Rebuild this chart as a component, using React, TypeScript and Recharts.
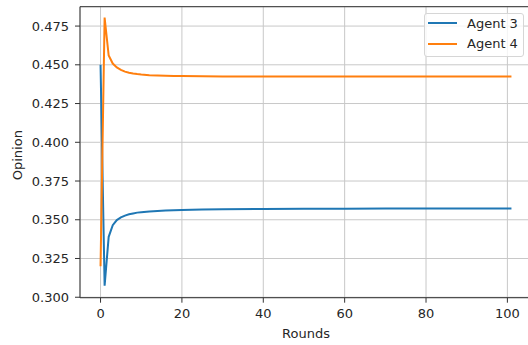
import React from "react";
import {
  LineChart,
  Line,
  XAxis,
  YAxis,
  CartesianGrid,
  Legend,
  ReferenceLine,
} from "recharts";

// rounds sampled densely where the curves move, sparser once they flatten out
const rounds = [0, 1, 2, 3, 4, 5, 6, 7, 8, 9, 10, 12, 14, 16, 18, 20, 25, 30, 40, 50, 60, 70, 80, 90, 101];
const agent3 = [
  0.45, 0.3075, 0.339, 0.3465, 0.3498, 0.3515, 0.3527, 0.3535, 0.3541, 0.3546, 0.3549, 0.3554,
  0.3557, 0.356, 0.3562, 0.3563, 0.3566, 0.3568, 0.357, 0.3571, 0.3571, 0.3572, 0.3572, 0.3572, 0.3572,
];
const agent4 = [
  0.32, 0.4805, 0.456, 0.4508, 0.4483, 0.4467, 0.4456, 0.4449, 0.4444, 0.444, 0.4437, 0.4433,
  0.4431, 0.4429, 0.4428, 0.4427, 0.4426, 0.4425, 0.4425, 0.4425, 0.4425, 0.4425, 0.4425, 0.4425, 0.4425,
];
const xTicks = [0, 20, 40, 60, 80, 100];
const yTicks = [0.3, 0.325, 0.35, 0.375, 0.4, 0.425, 0.45, 0.475];
const xDomain = [-5.05, 106.05];
const yDomain = [0.2997, 0.4875];

const data = rounds.map((r, i) => ({ round: r, a3: agent3[i], a4: agent4[i] }));

const FONT = "'DejaVu Sans', sans-serif";
const TEXT = "#262626";
const SPINE = "#333333";

const tickStyle = { fill: TEXT, fontSize: 13, fontFamily: FONT };

function renderLegend(props: any) {
  const items = props.payload || [];
  return (
    <div
      style={{
        width: 98,
        height: 42,
        border: "1px solid #d6d6d6",
        borderRadius: 3,
        background: "rgba(255,255,255,0.8)",
        fontFamily: FONT,
        fontSize: 13,
        color: TEXT,
        boxSizing: "content-box",
      }}
    >
      {items.map((it: any, i: number) => (
        <div
          key={it.value}
          style={{
            position: "absolute",
            left: 0,
            top: i === 0 ? 2 : 22.5,
            height: 16,
            display: "flex",
            alignItems: "center",
          }}
        >
          <span
            style={{
              display: "inline-block",
              width: 29,
              height: 2,
              background: it.color,
              marginLeft: 4,
              marginRight: 10,
            }}
          />
          <span>{it.value}</span>
        </div>
      ))}
    </div>
  );
}

export default function App() {
  return (
    <div
      style={{
        position: "fixed",
        left: 0,
        top: 0,
        width: 528,
        height: 345,
        overflow: "hidden",
        background: "#fff",
      }}
    >
      <LineChart
        width={540}
        height={345}
        data={data}
        margin={{ top: 6.7, right: 8, left: 0, bottom: 0 }}
      >
        <CartesianGrid stroke="#c8c8c8" strokeWidth={1} />
        <XAxis
          dataKey="round"
          type="number"
          domain={xDomain}
          ticks={xTicks}
          allowDataOverflow
          height={47.3}
          tick={tickStyle}
          tickSize={5}
          tickMargin={6}
          axisLine={{ stroke: SPINE }}
          tickLine={{ stroke: SPINE }}
          label={{
            content: (p: any) => {
              const vb = p.viewBox;
              return (
                <text
                  x={vb.x + vb.width / 2}
                  y={vb.y + 40}
                  textAnchor="middle"
                  fill={TEXT}
                  fontSize={13}
                  fontFamily={FONT}
                >
                  Rounds
                </text>
              );
            },
          }}
        />
        <YAxis
          type="number"
          domain={yDomain}
          ticks={yTicks}
          allowDataOverflow
          width={80}
          tick={tickStyle}
          tickSize={5}
          tickMargin={6}
          tickFormatter={(v: number) => v.toFixed(3)}
          axisLine={{ stroke: SPINE }}
          tickLine={{ stroke: SPINE }}
          label={{
            content: (p: any) => {
              const vb = p.viewBox;
              const x = vb.x + 22;
              const y = vb.y + vb.height / 2 + 3;
              return (
                <text
                  x={x}
                  y={y}
                  transform={`rotate(-90 ${x} ${y})`}
                  textAnchor="middle"
                  fill={TEXT}
                  fontSize={13}
                  fontFamily={FONT}
                >
                  Opinion
                </text>
              );
            },
          }}
        />
        <ReferenceLine y={yDomain[1]} stroke={SPINE} />
        <ReferenceLine x={xDomain[1]} stroke={SPINE} />
        <Line
          type="linear"
          dataKey="a3"
          name="Agent 3"
          stroke="#1f77b4"
          strokeWidth={2}
          dot={false}
          isAnimationActive={false}
        />
        <Line
          type="linear"
          dataKey="a4"
          name="Agent 4"
          stroke="#ff7f0e"
          strokeWidth={2}
          dot={false}
          isAnimationActive={false}
        />
        <Legend
          layout="vertical"
          align="center"
          verticalAlign="middle"
          content={renderLegend}
          wrapperStyle={{ top: 13, left: 424, width: 100, height: 44 }}
        />
      </LineChart>
    </div>
  );
}
